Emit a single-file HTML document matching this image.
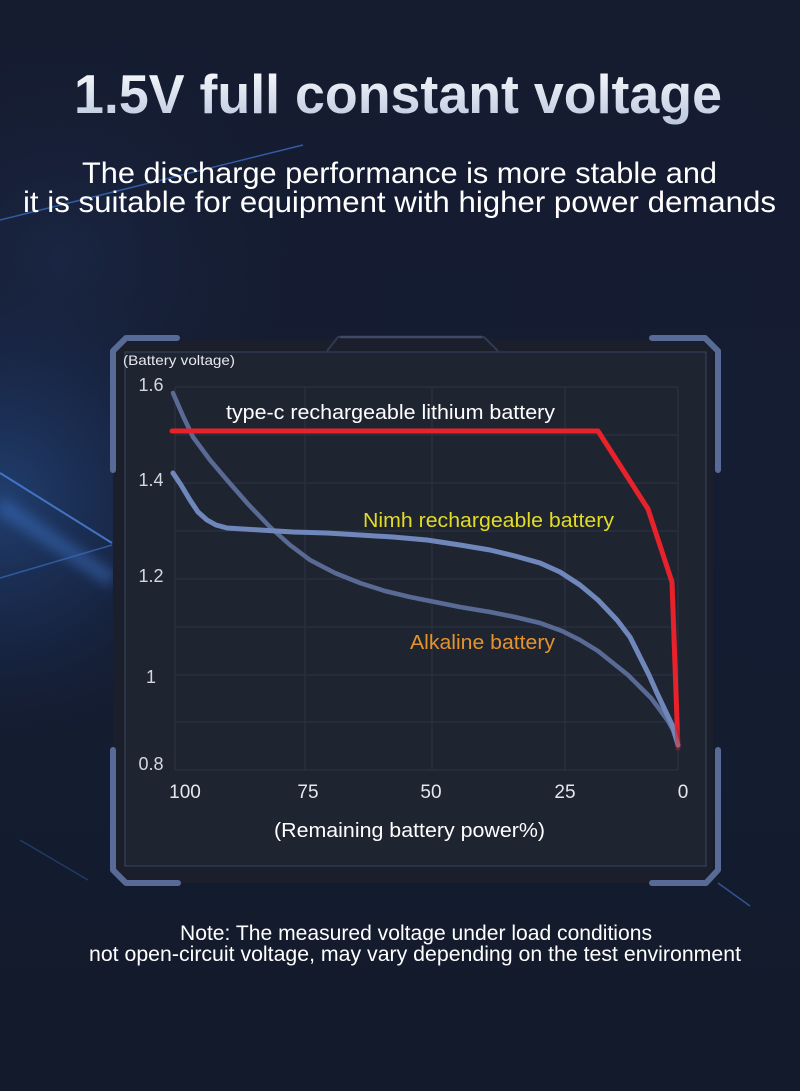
<!DOCTYPE html>
<html><head><meta charset="utf-8">
<style>
html,body{margin:0;padding:0;background:#141b2d;}
svg{display:block;}
text{font-family:"Liberation Sans","Noto Sans CJK SC",sans-serif;}
</style></head>
<body>
<svg width="800" height="1091" viewBox="0 0 800 1091" xmlns="http://www.w3.org/2000/svg">
<defs>
<linearGradient id="bg" x1="0" y1="0" x2="0" y2="1">
<stop offset="0" stop-color="#151c30"/>
<stop offset="0.45" stop-color="#151d33"/>
<stop offset="1" stop-color="#121a2b"/>
</linearGradient>
<radialGradient id="glow" gradientUnits="userSpaceOnUse" cx="0" cy="500" r="260">
<stop offset="0" stop-color="#24477f" stop-opacity="0.8"/>
<stop offset="0.5" stop-color="#1d3766" stop-opacity="0.4"/>
<stop offset="1" stop-color="#151d33" stop-opacity="0"/>
</radialGradient>
<radialGradient id="glow2" gradientUnits="userSpaceOnUse" cx="60" cy="260" r="260">
<stop offset="0" stop-color="#1d2c4e" stop-opacity="0.6"/>
<stop offset="1" stop-color="#151d33" stop-opacity="0"/>
</radialGradient>
<linearGradient id="tg" x1="0" y1="0" x2="0" y2="1">
<stop offset="0" stop-color="#ffffff"/>
<stop offset="1" stop-color="#b9c6de"/>
</linearGradient>
<filter id="blur" x="-50%" y="-50%" width="200%" height="200%">
<feGaussianBlur stdDeviation="6"/>
</filter>
<linearGradient id="redfade" x1="0" y1="582" x2="0" y2="750" gradientUnits="userSpaceOnUse">
<stop offset="0" stop-color="#e8222a"/>
<stop offset="0.85" stop-color="#e8222a"/>
<stop offset="1" stop-color="#e8222a" stop-opacity="0.3"/>
</linearGradient>
</defs>

<rect width="800" height="1091" fill="url(#bg)"/>
<rect width="800" height="1091" fill="url(#glow2)"/>
<rect width="800" height="1091" fill="url(#glow)"/>

<!-- background lines -->
<line x1="0" y1="220" x2="303" y2="145" stroke="#3a6bc0" stroke-width="1.5" opacity="0.8"/>
<line x1="0" y1="505" x2="112" y2="580" stroke="#3f78d0" stroke-width="16" opacity="0.45" filter="url(#blur)"/>
<line x1="0" y1="473" x2="112" y2="543" stroke="#4a7fd6" stroke-width="2" opacity="0.85"/>
<line x1="0" y1="578" x2="112" y2="545" stroke="#3a6bc0" stroke-width="1.5" opacity="0.7"/>
<line x1="20" y1="840" x2="88" y2="880" stroke="#2d4f8c" stroke-width="1.5" opacity="0.6"/>
<line x1="718" y1="883" x2="750" y2="906" stroke="#3a62a8" stroke-width="1.5" opacity="0.8"/>

<!-- title -->
<text x="74" y="113" font-size="55" font-weight="bold" fill="url(#tg)" textLength="648" lengthAdjust="spacingAndGlyphs">1.5V full constant voltage</text>
<text x="82" y="183" font-size="30" fill="#ffffff" textLength="635" lengthAdjust="spacingAndGlyphs">The discharge performance is more stable and</text>
<text x="23" y="212" font-size="30" fill="#ffffff" textLength="753" lengthAdjust="spacingAndGlyphs">it is suitable for equipment with higher power demands</text>

<!-- panel -->
<path d="M113,352 L125,340 L327,340 L338,337 L484,337 L498,340 L705,340 L713,350 L713,872 L705,883 L125,883 L113,872 Z" fill="#1a1f2b"/>
<rect x="125" y="352" width="581" height="514" fill="#1f2431" stroke="#3a4560" stroke-width="1"/>
<path d="M327,351 L338,337 L484,337 L498,351" fill="none" stroke="#2f3a52" stroke-width="2"/>
<line x1="340" y1="337" x2="482" y2="337" stroke="#3f4b66" stroke-width="2.5"/>

<!-- grid -->
<g stroke="#2c3343" stroke-width="1">
<line x1="175" y1="387" x2="678" y2="387"/>
<line x1="175" y1="435" x2="678" y2="435"/>
<line x1="175" y1="483" x2="678" y2="483"/>
<line x1="175" y1="531" x2="678" y2="531"/>
<line x1="175" y1="579" x2="678" y2="579"/>
<line x1="175" y1="627" x2="678" y2="627"/>
<line x1="175" y1="675" x2="678" y2="675"/>
<line x1="175" y1="722" x2="678" y2="722"/>
<line x1="175" y1="770" x2="678" y2="770"/>
<line x1="175" y1="387" x2="175" y2="770"/>
<line x1="305" y1="387" x2="305" y2="770"/>
<line x1="432" y1="387" x2="432" y2="770"/>
<line x1="565" y1="387" x2="565" y2="770"/>
<line x1="678" y1="387" x2="678" y2="770"/>
</g>

<!-- brackets -->
<g fill="none" stroke="#576b96" stroke-width="6" stroke-linecap="round" stroke-linejoin="round">
<path d="M113,470 L113,351 L126,338 L177,338"/>
<path d="M652,338 L705,338 L718,351 L718,470"/>
<path d="M113,750 L113,870 L126,883 L178,883"/>
<path d="M718,750 L718,870 L706,883 L652,883"/>
</g>

<!-- axis labels -->
<text x="123" y="365" font-size="14" fill="#e6e9ef" textLength="112" lengthAdjust="spacingAndGlyphs">(Battery voltage)</text>
<g font-size="18" fill="#d4d8e0" text-anchor="middle">
<text x="151" y="391">1.6</text>
<text x="151" y="486">1.4</text>
<text x="151" y="582">1.2</text>
<text x="151" y="683">1</text>
<text x="151" y="770">0.8</text>
</g>
<g font-size="19" fill="#e4e7ee" text-anchor="middle">
<text x="185" y="798">100</text>
<text x="308" y="798">75</text>
<text x="431" y="798">50</text>
<text x="565" y="798">25</text>
<text x="683" y="798">0</text>
</g>
<text x="274" y="837" font-size="20" fill="#ffffff" textLength="271" lengthAdjust="spacingAndGlyphs">(Remaining battery power%)</text>

<!-- curves -->
<polyline fill="none" stroke="#5d6f9a" stroke-width="4.5" stroke-linecap="round" stroke-linejoin="round" opacity="0.95"
points="173,393 183,416 193,437 210,460 227,480 248,504 270,527 290,545 310,560 335,573 360,583 385,591 410,597 435,602 460,607 490,612 515,617 540,623 562,631 580,640 598,651 613,663 628,675 640,687 651,698 660,710 668,721 673,730 678,745"/>
<polyline fill="none" stroke="#7087bb" stroke-width="5" stroke-linecap="round" stroke-linejoin="round"
points="173,473 181,485 190,500 198,512 207,520 216,525 227,528 260,530 293,532 327,533 360,535 393,537 427,540 460,545 490,550 515,556 540,563 560,572 580,585 598,600 617,620 630,637 640,657 649,675 657,693 665,710 673,727 678,745"/>
<polyline fill="none" stroke="url(#redfade)" stroke-width="5" stroke-linecap="round" stroke-linejoin="round"
points="172,431 598,431 648,509 672,582 678,748"/>

<!-- series labels -->
<text x="226" y="419" font-size="20" fill="#ffffff" textLength="329" lengthAdjust="spacingAndGlyphs">type-c rechargeable lithium battery</text>
<text x="363" y="527" font-size="20" fill="#e2dc24" textLength="251" lengthAdjust="spacingAndGlyphs">Nimh rechargeable battery</text>
<text x="410" y="649" font-size="20" fill="#e5932c" textLength="145" lengthAdjust="spacingAndGlyphs">Alkaline battery</text>

<!-- note -->
<text x="180" y="940" font-size="21" fill="#ffffff" textLength="472" lengthAdjust="spacingAndGlyphs">Note: The measured voltage under load conditions</text>
<text x="89" y="961" font-size="21" fill="#ffffff" textLength="652" lengthAdjust="spacingAndGlyphs">not open-circuit voltage, may vary depending on the test environment</text>
</svg>
</body></html>
